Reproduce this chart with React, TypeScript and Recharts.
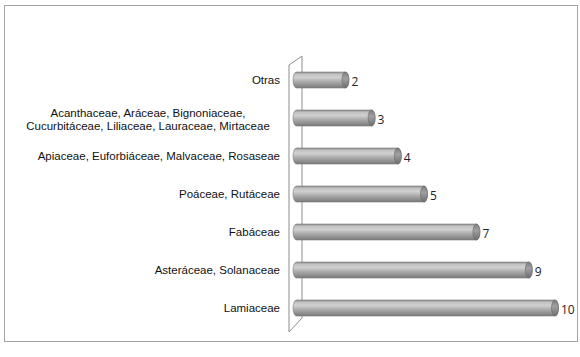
import { BarChart, Bar, XAxis, YAxis, LabelList, ReferenceArea } from "recharts";

// Familias botánicas (de arriba hacia abajo) y número de especies
const familias = [
  "Otras",
  "Acanthaceae, Aráceae, Bignoniaceae,\nCucurbitáceae, Liliaceae, Lauraceae, Mirtaceae",
  "Apiaceae, Euforbiáceae, Malvaceae, Rosaseae",
  "Poáceae, Rutáceae",
  "Fabáceae",
  "Asteráceae, Solanaceae",
  "Lamiaceae",
];
const especies = [2, 3, 4, 5, 7, 9, 10];

const data = familias.map((f, i) => ({ familia: f, valor: especies[i] }));

const FONT = "'Liberation Sans', Arial, sans-serif";

function CategoryTick(props: any) {
  const { x, y, payload } = props;
  const lines = String(payload.value).split("\n");
  if (lines.length === 1) {
    return (
      <text x={x} y={y} dy="0.35em" textAnchor="end" fontSize={11.5} fontFamily={FONT} fill="#111">
        {lines[0]}
      </text>
    );
  }
  // texto en dos líneas, centrado
  return (
    <text x={x - 132} y={y} textAnchor="middle" fontSize={11.5} fontFamily={FONT} fill="#111">
      {lines.map((l, i) => (
        <tspan key={i} x={x - 132} dy={i === 0 ? "-0.1em" : "1.1em"}>
          {l}
        </tspan>
      ))}
    </text>
  );
}

// Pared 3D del eje
function Wall(props: any) {
  const { x, y, height } = props;
  const front = x - 4;
  const back = x + 9;
  const top = y;
  const bottom = y + height;
  return (
    <path
      d={`M${front},${top + 4} L${back},${top - 5} L${back},${bottom - 9} L${front},${bottom + 5} Z`}
      stroke="#8c8c8c"
      strokeWidth={1}
      fill="#fff"
    />
  );
}

function Cylinder(props: any) {
  const { x, y, width, height } = props;
  const r = 3.5;
  const h = height;
  const w = width;
  return (
    <g>
      <path
        d={`M${x + r},${y} L${x + w},${y} A${r},${h / 2} 0 0 1 ${x + w},${y + h} L${x + r},${y + h} A${r},${h / 2} 0 0 1 ${x + r},${y} Z`}
        fill="url(#cyl)"
        stroke="#7a7a7a"
        strokeWidth={0.6}
      />
      <ellipse cx={x + w} cy={y + h / 2} rx={r} ry={h / 2} fill="url(#cap)" stroke="#6a6a6a" strokeWidth={0.6} />
    </g>
  );
}

export default function App() {
  return (
    <div style={{ position: "fixed", left: 0, top: 0, width: 580, height: 357, background: "#fff" }}>
      <div
        style={{
          position: "absolute",
          left: 4,
          top: 5,
          width: 572,
          height: 335,
          border: "1px solid #a6a6a6",
        }}
      />
      <div style={{ position: "absolute", left: 0, top: 0 }}>
        <BarChart
          width={580}
          height={357}
          data={data}
          layout="vertical"
          margin={{ top: 61, right: 25, bottom: 30, left: 0 }}
          barSize={16}
        >
          <defs>
            <linearGradient id="cyl" x1="0" y1="0" x2="0" y2="1">
              <stop offset="0%" stopColor="#8e8e8e" />
              <stop offset="15%" stopColor="#c2c2c2" />
              <stop offset="35%" stopColor="#d0d0d0" />
              <stop offset="60%" stopColor="#ababab" />
              <stop offset="100%" stopColor="#7a7a7a" />
            </linearGradient>
            <linearGradient id="cap" x1="0" y1="0" x2="0" y2="1">
              <stop offset="0%" stopColor="#7d7d7d" />
              <stop offset="40%" stopColor="#a0a0a0" />
              <stop offset="100%" stopColor="#6e6e6e" />
            </linearGradient>
          </defs>
          <XAxis type="number" domain={[0, 10]} hide />
          <YAxis
            type="category"
            dataKey="familia"
            width={293}
            axisLine={false}
            tickLine={false}
            tickSize={0}
            tickMargin={13}
            tick={<CategoryTick />}
            interval={0}
          />
          <ReferenceArea x1={0} x2={0.5} ifOverflow="visible" shape={<Wall />} />
          <Bar dataKey="valor" shape={<Cylinder />} isAnimationActive={false}>
            <LabelList
              dataKey="valor"
              position="right"
              offset={6}
              dy={2}
              fontSize={12}
              fontFamily="'Open Sans', 'DejaVu Sans', sans-serif"
              fill="#222"
            />
          </Bar>
        </BarChart>
      </div>
    </div>
  );
}
